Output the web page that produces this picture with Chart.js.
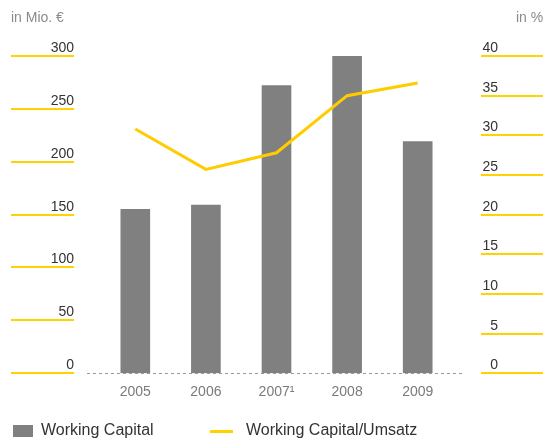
<!DOCTYPE html>
<html>
<head>
<meta charset="utf-8">
<script src="https://cdn.jsdelivr.net/npm/chart.js@4/dist/chart.umd.min.js"></script>
<style>
  html, body { margin: 0; padding: 0; background: #fff; }
  #wrap { position: relative; width: 543px; height: 439px; overflow: hidden; font-family: "Liberation Sans", Arial, sans-serif; }
  #wrap canvas { position: absolute; left: 0; top: 0; }
  .unit { position: absolute; top: 10px; font-size: 14px; line-height: 14px; color: #8a8a8a; white-space: nowrap; }
  .leg { position: absolute; top: 422px; font-size: 16px; line-height: 16px; color: #333; white-space: nowrap; }
  .leg i { position: absolute; display: block; }
</style>
</head>
<body>
<div id="wrap">
  <canvas id="chart" width="543" height="439"></canvas>
  <div class="unit" style="left:11px">in Mio. €</div>
  <div class="unit" style="left:516px">in %</div>
  <div class="leg" style="left:41px"><i style="left:-28px;top:3px;width:20px;height:12px;background:#808080"></i>Working Capital</div>
  <div class="leg" style="left:246px"><i style="left:-36px;top:8px;width:23px;height:3px;background:#ffd200"></i>Working Capital/Umsatz</div>
</div>
<script>
const years = ["2005", "2006", "2007¹", "2008", "2009"];
const workingCapital = [155, 159, 272, 305, 219];     // Mio. €
const wcUmsatz = [30.8, 25.7, 27.8, 35.0, 36.6];       // %
const leftTicks = [0, 50, 100, 150, 200, 250, 300];
const rightTicks = [0, 5, 10, 15, 20, 25, 30, 35, 40];

const YELLOW = "#ffd200";

// yellow tick rules with labels sitting on them, plus dashed baseline
const sideRules = {
  id: "sideRules",
  afterDraw(chart) {
    const ctx = chart.ctx;
    const yl = chart.scales.y;
    const yr = chart.scales.y1;
    ctx.save();
    ctx.font = "14px 'Liberation Sans', Arial, sans-serif";
    ctx.fillStyle = "#333";
    ctx.textBaseline = "alphabetic";
    ctx.strokeStyle = YELLOW;
    ctx.lineWidth = 2;
    leftTicks.forEach((v) => {
      const y = Math.round(yl.getPixelForValue(v));
      ctx.beginPath();
      ctx.moveTo(11, y);
      ctx.lineTo(74, y);
      ctx.stroke();
      ctx.textAlign = "right";
      ctx.fillText(String(v), 74, y - 4);
    });
    rightTicks.forEach((v) => {
      const y = Math.round(yr.getPixelForValue(v));
      ctx.beginPath();
      ctx.moveTo(481, y);
      ctx.lineTo(543, y);
      ctx.stroke();
      ctx.textAlign = "right";
      ctx.fillText(String(v), 498, y - 4);
    });
    // dashed zero line
    const y0 = Math.round(yl.getPixelForValue(0)) + 0.5;
    ctx.strokeStyle = "#9a9a9a";
    ctx.lineWidth = 1;
    ctx.setLineDash([3, 3]);
    ctx.beginPath();
    ctx.moveTo(87, y0);
    ctx.lineTo(463, y0);
    ctx.stroke();
    ctx.restore();
  }
};

new Chart(document.getElementById("chart"), {
  data: {
    labels: years,
    datasets: [
      {
        type: "line",
        label: "Working Capital/Umsatz",
        data: wcUmsatz,
        yAxisID: "y1",
        borderColor: "#ffcc00",
        borderWidth: 3,
        pointRadius: 0,
        tension: 0,
        order: 0
      },
      {
        type: "bar",
        label: "Working Capital",
        data: workingCapital,
        yAxisID: "y",
        backgroundColor: "#808080",
        barThickness: 29,
        order: 1
      }
    ]
  },
  options: {
    responsive: false,
    animation: false,
    layout: { padding: { left: 100, right: 90, top: 56, bottom: 35 } },
    plugins: {
      legend: { display: false },
      tooltip: { enabled: false }
    },
    scales: {
      x: {
        grid: { display: false },
        border: { display: false },
        ticks: {
          color: "#7a7a7a",
          padding: 3,
          font: { family: "'Liberation Sans', Arial, sans-serif", size: 14 }
        }
      },
      y: { display: false, min: 0, max: 300 },
      y1: { display: false, min: 0, max: 40 }
    }
  },
  plugins: [sideRules]
});
</script>
</body>
</html>
